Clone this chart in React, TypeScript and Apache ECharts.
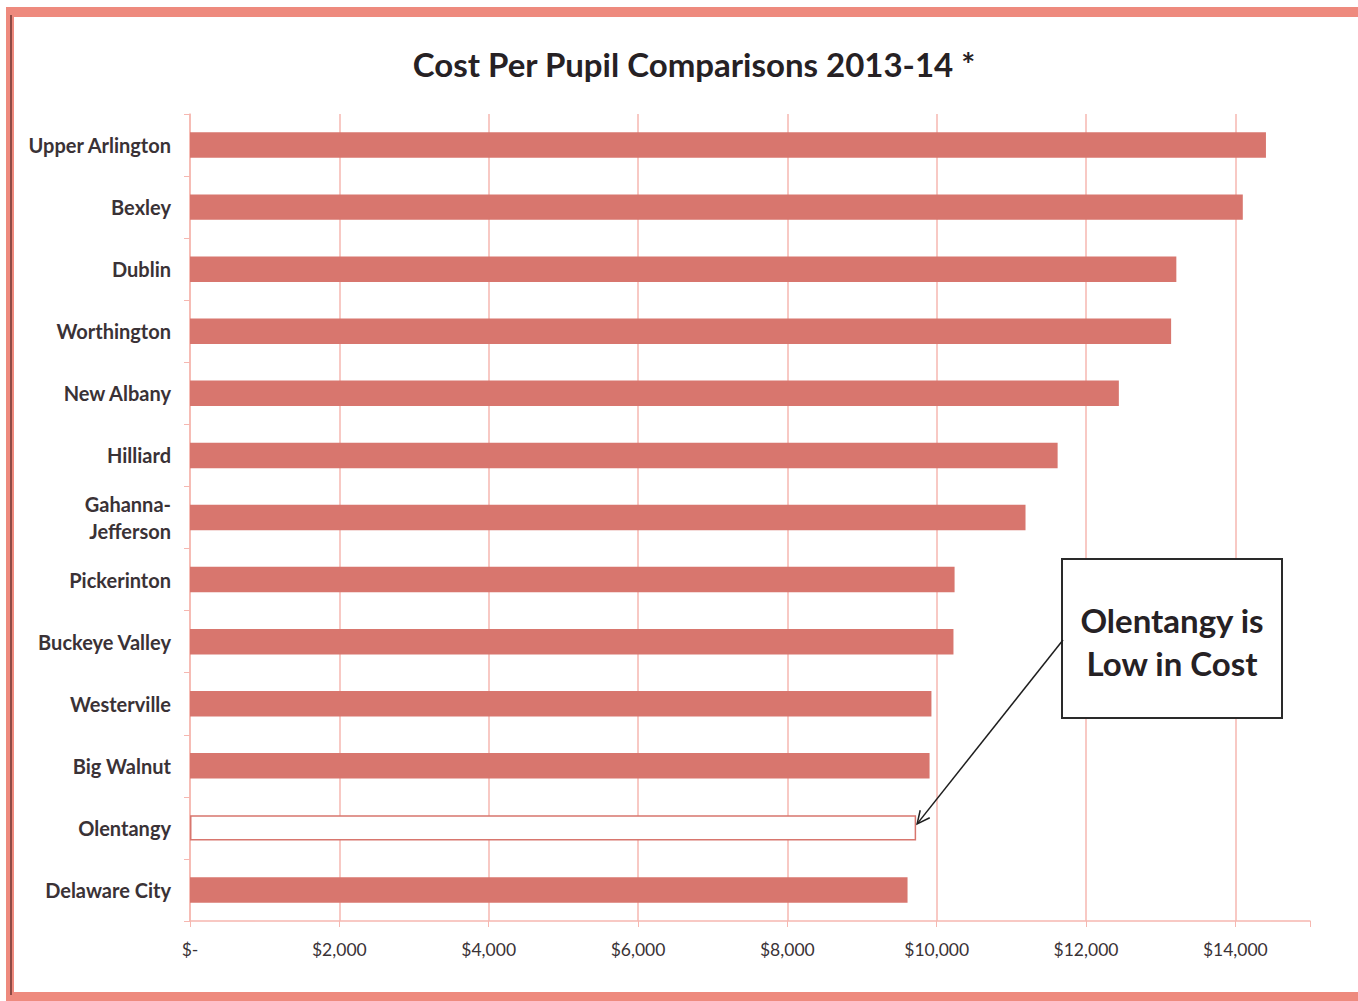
import React, { useEffect, useRef } from "react";
import * as echarts from "echarts";

const districts = [
  "Upper Arlington",
  "Bexley",
  "Dublin",
  "Worthington",
  "New Albany",
  "Hilliard",
  "Gahanna-\nJefferson",
  "Pickerinton",
  "Buckeye Valley",
  "Westerville",
  "Big Walnut",
  "Olentangy",
  "Delaware City",
];
const costPerPupil = [14410, 14100, 13210, 13140, 12440, 11620, 11190, 10240, 10225, 9930, 9905, 9725, 9610];
const highlighted = "Olentangy";
const axisMax = 15000;
const tickStep = 2000;
const titleText = "Cost Per Pupil Comparisons 2013-14 *";
const calloutLines = ["Olentangy is", "Low in Cost"];

const BAR = "#D8766E";
const GRID = "#F6B7B0";
const TEXT = "#3A3236";
const FONT = "Lato, 'Open Sans', sans-serif";

export default function App() {
  const ref = useRef<HTMLDivElement>(null);
  useEffect(() => {
    if (!ref.current) return;
    const chart = echarts.init(ref.current, undefined, { renderer: "svg" });
    const data = costPerPupil.map((v, i) =>
      districts[i] === highlighted
        ? { value: v, itemStyle: { color: "#FFFFFF", borderColor: BAR, borderWidth: 1.5 } }
        : { value: v }
    );
    const base: any = {
      animation: false,
      backgroundColor: "#FFFFFF",
      title: {
        text: titleText,
        left: 689,
        textAlign: "center",
        top: 42,
        textStyle: { fontFamily: FONT, fontSize: 33, fontWeight: "bold", color: "#262124" },
      },
      grid: { left: 190, right: 48, top: 114, bottom: 80, containLabel: false },
      xAxis: {
        type: "value",
        min: 0,
        max: axisMax,
        interval: tickStep,
        axisLine: { show: true, lineStyle: { color: GRID, width: 1.5 } },
        axisTick: { show: true, length: 6, lineStyle: { color: GRID } },
        splitLine: { show: true, showMaxLine: false, lineStyle: { color: GRID, width: 1.5 } },
        axisLabel: {
          margin: 19,
          color: TEXT,
          fontFamily: FONT,
          fontSize: 17.5,
          formatter: (v: number) =>
            v === 0 ? "$-" : v % tickStep !== 0 ? "" : "$" + v.toLocaleString("en-US"),
        },
      },
      yAxis: {
        type: "category",
        inverse: true,
        data: districts,
        axisLine: { show: true, lineStyle: { color: GRID, width: 1.5 } },
        axisTick: { show: true, length: 6, lineStyle: { color: GRID } },
        axisLabel: {
          margin: 19,
          color: TEXT,
          fontFamily: FONT,
          fontSize: 20,
          fontWeight: "bold",
          lineHeight: 27,
          align: "right",
        },
      },
      series: [
        {
          type: "bar",
          data,
          barWidth: "41%",
          itemStyle: { color: BAR },
        },
      ],
    };
    chart.setOption(base);
    const idx = districts.indexOf(highlighted);
    const end = chart.convertToPixel({ gridIndex: 0 }, [costPerPupil[idx], idx]) as number[];
    const tipX = end[0] + 1;
    const tipY = end[1] - 4;
    const boxX = 1062, boxY = 559, boxW = 220, boxH = 159;
    const startX = boxX + 1, startY = 640;
    const ang = Math.atan2(tipY - startY, tipX - startX);
    const hl = 14, ha = 0.45;
    const h1 = [tipX - hl * Math.cos(ang - ha), tipY - hl * Math.sin(ang - ha)];
    const h2 = [tipX - hl * Math.cos(ang + ha), tipY - hl * Math.sin(ang + ha)];
    chart.setOption({
      graphic: [
        { type: "rect", shape: { x: 6, y: 7, width: 1352, height: 10 }, style: { fill: "#EE8A7E" }, z: 100 },
        { type: "rect", shape: { x: 6, y: 7, width: 8, height: 992 }, style: { fill: "#EE8A7E" }, z: 100 },
        { type: "rect", shape: { x: 10, y: 15, width: 2, height: 980 }, style: { fill: "#8E4A44" }, z: 101 },
        { type: "rect", shape: { x: 6, y: 992, width: 1352, height: 9 }, style: { fill: "#EE8A7E" }, z: 100 },
        {
          type: "rect",
          shape: { x: boxX, y: boxY, width: boxW, height: boxH },
          style: { fill: "#FFFFFF", stroke: "#2A2A2A", lineWidth: 2 },
          z: 100,
        },
        {
          type: "text",
          x: boxX + boxW / 2,
          y: 620,
          style: {
            text: calloutLines[0],
            fill: "#262124",
            font: "bold 33px " + FONT,
            align: "center",
            verticalAlign: "middle",
          },
          z: 101,
        },
        {
          type: "text",
          x: boxX + boxW / 2,
          y: 663,
          style: {
            text: calloutLines[1],
            fill: "#262124",
            font: "bold 33px " + FONT,
            align: "center",
            verticalAlign: "middle",
          },
          z: 101,
        },
        {
          type: "line",
          shape: { x1: startX, y1: startY, x2: tipX, y2: tipY },
          style: { stroke: "#1E1E1E", lineWidth: 1.5 },
          z: 101,
        },
        {
          type: "polyline",
          shape: { points: [h1, [tipX, tipY], h2] },
          style: { stroke: "#1E1E1E", lineWidth: 1.5, fill: "none" },
          z: 101,
        },
      ],
    });
    return () => chart.dispose();
  }, []);
  return (
    <div
      ref={ref}
      style={{ position: "fixed", left: 0, top: 0, width: 1358, height: 1001 }}
    />
  );
}
